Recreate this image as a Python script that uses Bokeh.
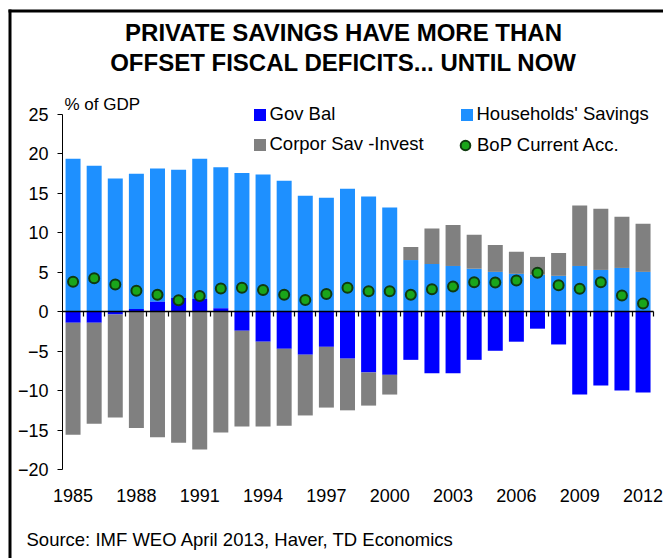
import numpy as np
from bokeh.plotting import figure
from bokeh.models import (Range1d, FixedTicker, LinearAxis, BoxAnnotation, Label, Legend,
                          LegendItem, ColumnDataSource)
from bokeh.embed import file_html
from bokeh.resources import INLINE

# ---------------- data (% of GDP) ----------------
years = list(range(1985, 2013))
gov_bal = [-1.4, -1.4, -0.35, 0.35, 1.25, 1.75, 1.6, 0.45, -2.4, -3.8, -4.7, -5.45,
           -4.45, -5.95, -7.7, -8.0, -6.1, -7.8, -7.8, -6.1, -4.95, -3.8, -2.15,
           -4.15, -10.5, -9.35, -10.0, -10.25]
households = [19.4, 18.5, 16.9, 17.15, 16.9, 16.25, 17.8, 17.85, 17.6, 17.4, 16.6,
              14.7, 14.45, 15.6, 14.6, 13.2, 6.55, 6.05, 5.8, 5.45, 5.05, 4.8, 4.7,
              4.55, 5.8, 5.3, 5.55, 5.05]
corporate = [-14.2, -12.8, -13.05, -14.75, -15.9, -16.6, -17.45, -15.3, -12.15,
             -10.75, -9.75, -7.7, -7.7, -6.55, -4.2, -2.5, 1.65, 4.5, 5.2, 4.3, 3.4,
             2.8, 2.25, 2.9, 7.65, 7.75, 6.5, 6.1]
bop_current = [3.8, 4.25, 3.45, 2.65, 2.15, 1.45, 2.0, 2.95, 3.05, 2.75, 2.15, 1.5,
               2.25, 3.05, 2.6, 2.6, 2.15, 2.85, 3.2, 3.75, 3.7, 3.95, 4.95, 3.35,
               2.9, 3.75, 2.05, 1.05]
x_tick_labels = [1985, 1988, 1991, 1994, 1997, 2000, 2003, 2006, 2009, 2012]
y_ticks = [-20, -15, -10, -5, 0, 5, 10, 15, 20, 25]

title_lines = ["PRIVATE SAVINGS HAVE MORE THAN", "OFFSET FISCAL DEFICITS... UNTIL NOW"]
y_unit_label = "% of GDP"
source_text = "Source: IMF WEO April 2013, Haver, TD Economics"

# ---------------- stacking ----------------
x = np.array(years, dtype=float)
g = np.array(gov_bal)
h = np.array(households)
c = np.array(corporate)
g_pos = np.maximum(g, 0)
g_neg = np.minimum(g, 0)
hh_bottom = g_pos
hh_top = g_pos + h
corp_bottom = np.where(c >= 0, hh_top, g_neg + c)
corp_top = np.where(c >= 0, hh_top + c, g_neg)

src = ColumnDataSource(dict(x=x, g=g, zero=np.zeros_like(g), hb=hh_bottom, ht=hh_top,
                            cb=corp_bottom, ct=corp_top, bop=np.array(bop_current)))

FONT = "Liberation Sans"
W, H = 663, 558
# frame covers the whole canvas; axes are placed with fixed_location
x_lo, x_hi = years[0] - 0.5, years[-1] + 0.5
px_per_year = 21.111
px_per_unit = 7.8889
x_start = x_lo - 62 / px_per_year
x_end = x_start + W / px_per_year
y_end = y_ticks[-1] + 114 / px_per_unit
y_start = y_end - H / px_per_unit

p = figure(width=W, height=H, output_backend="svg", toolbar_location=None,
           x_range=Range1d(x_start, x_end), y_range=Range1d(y_start, y_end),
           min_border=0, x_axis_type=None, y_axis_type=None)
p.grid.visible = False
p.outline_line_color = None
p.background_fill_color = "white"
p.border_fill_color = "white"

BW = 0.71
r_hh = p.vbar(x="x", width=BW, bottom="hb", top="ht", source=src,
              fill_color="#1e90ff", line_color=None)
r_gov = p.vbar(x="x", width=BW, bottom="zero", top="g", source=src,
               fill_color="#0000ff", line_color=None)
r_corp = p.vbar(x="x", width=BW, bottom="cb", top="ct", source=src,
                fill_color="#808080", line_color=None)

# zero axis with tick marks at category boundaries (minor ticks, no labels)
boundaries = [yr + 0.5 for yr in years]
xax0 = LinearAxis(ticker=FixedTicker(ticks=[], minor_ticks=boundaries), fixed_location=0,
                  bounds=(x_lo, x_hi), axis_line_color="black", axis_line_width=1.5,
                  major_tick_line_color=None, minor_tick_out=5, minor_tick_in=0,
                  minor_tick_line_color="black", minor_tick_line_width=1.2)
p.add_layout(xax0, "below")

r_bop = p.scatter(x="x", y="bop", source=src, size=10, marker="circle",
                  fill_color="#1aa51a", line_color="#0f3a0f", line_width=2)

# y axis
yax = LinearAxis(ticker=FixedTicker(ticks=y_ticks), bounds=(y_ticks[0], y_ticks[-1]),
                 fixed_location=x_lo,
                 major_tick_out=5, major_tick_in=0, minor_tick_line_color=None,
                 major_label_standoff=9, major_label_text_font=FONT,
                 major_label_text_font_size="18px", major_label_text_color="black",
                 axis_line_color="black", major_tick_line_color="black")
p.add_layout(yax, "left")

# x labels axis
xax = LinearAxis(ticker=FixedTicker(ticks=x_tick_labels), fixed_location=y_ticks[0],
                 axis_line_color=None,
                 major_tick_line_color=None, minor_tick_line_color=None,
                 major_tick_out=0, major_tick_in=0, major_label_standoff=19,
                 major_label_text_font=FONT, major_label_text_font_size="18px",
                 major_label_text_color="black")
p.add_layout(xax, "below")

# chart border (left and top), screen units from the canvas bottom-left
p.add_layout(BoxAnnotation(left=8, right=11, bottom=0, top=H - 9,
                           left_units="screen", right_units="screen",
                           bottom_units="screen", top_units="screen",
                           fill_color="black", fill_alpha=1, line_color=None))
p.add_layout(BoxAnnotation(left=8, right=W, bottom=H - 12, top=H - 9,
                           left_units="screen", right_units="screen",
                           bottom_units="screen", top_units="screen",
                           fill_color="black", fill_alpha=1, line_color=None))

# legends (one per item for precise placement)
def mk_legend(label, renderer, loc, gw, gh, standoff):
    lg = Legend(items=[LegendItem(label=label, renderers=[renderer])], location=loc,
                glyph_width=gw, glyph_height=gh, label_standoff=standoff,
                label_text_font=FONT, label_text_font_size="18.5px",
                label_text_color="black", padding=0, margin=0, spacing=0,
                border_line_color=None, background_fill_alpha=0, label_height=20)
    p.add_layout(lg, "center")

mk_legend("Gov Bal", r_gov, (251.5, 433), 15, 15, 3)
mk_legend("Corpor Sav -Invest", r_corp, (251.5, 403), 15, 15, 3)
mk_legend("Households' Savings", r_hh, (458.5, 433), 15, 15, 3)
mk_legend("BoP Current Acc.", r_bop, (453, 401), 24, 24, 0)

# title & annotations (screen units from the canvas bottom-left)
for txt, yy in ((title_lines[0], H - 31.5), (title_lines[1], H - 62)):
    p.add_layout(Label(x=343, y=yy, x_units="screen", y_units="screen", text=txt,
                       text_font=FONT, text_font_size="24px", text_font_style="bold",
                       text_color="black", text_align="center", text_baseline="middle"))
p.add_layout(Label(x=64, y=H - 103.5, x_units="screen", y_units="screen", text=y_unit_label,
                   text_font=FONT, text_font_size="17px", text_color="black",
                   text_align="left", text_baseline="middle"))
p.add_layout(Label(x=26, y=H - 538.5, x_units="screen", y_units="screen", text=source_text,
                   text_font=FONT, text_font_size="18.5px", text_color="black",
                   text_align="left", text_baseline="middle"))

open("out.html", "w").write(file_html(p, INLINE))
